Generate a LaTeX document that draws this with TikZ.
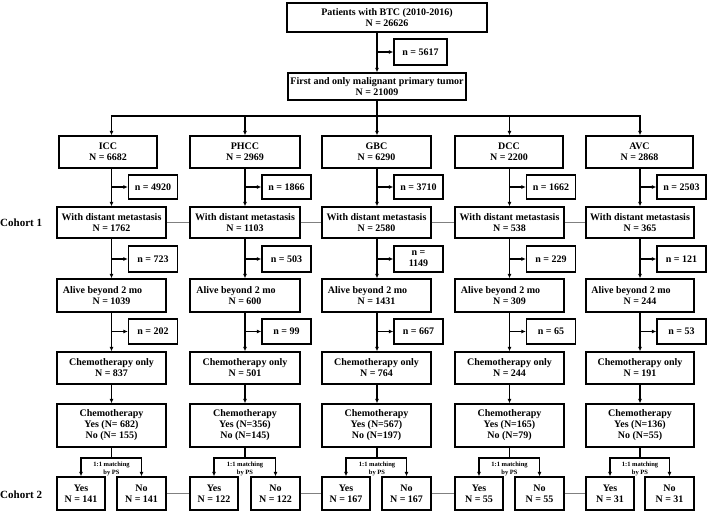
\documentclass[tikz,border=0pt]{standalone}
\usepackage{fontspec}
\setmainfont{Liberation Serif}
\usetikzlibrary{arrows.meta}
\begin{document}
\begin{tikzpicture}[x=1pt,y=-1pt,
 box/.style={draw=black, line width=1.3pt, align=center, inner sep=1pt, font=\fontsize{10}{11}\selectfont\bfseries},
 conn/.style={line width=1.3pt, -{Latex[length=4.5pt,width=4pt]}},
 plain/.style={line width=1.3pt},
 link/.style={line width=0.9pt, gray},
 small/.style={font=\fontsize{6.5}{8}\selectfont\bfseries, align=center, inner sep=0pt},
 cohort/.style={font=\fontsize{11}{13}\selectfont\bfseries, inner sep=0pt, anchor=west}]
\useasboundingbox (0,0) rectangle (709,512);

\node[box, minimum width=200pt, minimum height=29pt] (top) at (387,17.5) {Patients with BTC (2010-2016)\\N = 26626};
\node[box, minimum width=53pt, minimum height=26pt] (ex0) at (420.5,52) {n = 5617};
\node[box, minimum width=178pt, minimum height=27pt] (first) at (377,86.5) {First and only malignant primary tumor\\N = 21009};
\draw[conn] (top.south -| first.north) -- (first.north);
\draw[conn] (ex0.west -| first.north) -- (ex0.west);

\node[cohort] (coh1) at (0,223) {Cohort 1};
\node[cohort] (coh2) at (0,495) {Cohort 2};

\foreach \k/\L/\R/\x/\cL/\cR/\catN/\sa/\dN/\sb/\aN/\sc/\oN/\cy/\cn/\m in {
 ICC/57/166/111.5/59/157/6682/4920/1762/{n = 723}/1039/202/837/{N= 682}/{N= 155}/141,
 PHCC/190/300/245/190/300/2969/1866/1103/{n = 503}/600/99/501/{N=356}/{N=145}/122,
 GBC/322/431/377/322/431/6290/3710/2580/{n =\\1149}/1431/667/764/{N=567}/{N=197}/167,
 DCC/455/564/509.5/455/563/2200/1662/538/{n = 229}/309/65/244/{N=165}/{N=79}/55,
 AVC/586/694/640/586/693/2868/2503/365/{n = 121}/244/53/191/{N=136}/{N=55}/31}{
 \pgfmathsetmacro\cx{(\L+\R)/2}
 \pgfmathsetmacro\ccx{(\cL+\cR)/2}
 \pgfmathsetmacro\sx{\x+41.5}
 \pgfmathsetmacro\yx{\L+24}
 \pgfmathsetmacro\nx{\R-24.5}
 \pgfmathsetlengthmacro\w{\R-\L}
 \pgfmathsetlengthmacro\cw{\cR-\cL}
 \coordinate (c\k) at (\x,116);
 \node[box, minimum width=\cw, minimum height=32pt] (cat\k) at (\ccx,152) {\k\\N = \catN};
 \node[box, minimum width=49pt, minimum height=24pt] (sa\k) at (\sx,187) {n = \sa};
 \node[box, minimum width=\w, minimum height=31pt] (dist\k) at (\cx,222.5) {With distant metastasis\\N = \dN};
 \node[box, minimum width=49pt, minimum height=26pt] (sb\k) at (\sx,259) {\sb};
 \node[box, minimum width=\w, minimum height=33pt] (alive\k) at (\cx,295.5) {Alive beyond 2 mo\hspace*{18pt}\\N = \aN};
 \node[box, minimum width=49pt, minimum height=25pt] (sc\k) at (\sx,331.5) {n = \sc};
 \node[box, minimum width=\w, minimum height=32pt] (only\k) at (\cx,368) {Chemotherapy only\\N = \oN};
 \node[box, minimum width=\w, minimum height=43pt] (chemo\k) at (\cx,425.5) {Chemotherapy\\Yes (\cy)\\No (\cn)};
 \node[box, minimum width=48pt, minimum height=33pt] (yes\k) at (\yx,493.5) {Yes\\N = \m};
 \node[box, minimum width=49pt, minimum height=33pt] (no\k) at (\nx,493.5) {No\\N = \m};
 \node[small] (ps\k) at (\x,469) {1:1 matching\\by PS};
 \coordinate (sp\k) at (\x,458);
 \draw[conn] (c\k) -- (c\k |- cat\k.north);
 \draw[conn] (cat\k.south -| c\k) -- (dist\k.north -| c\k);
 \draw[conn] (sa\k.west -| c\k) -- (sa\k.west);
 \draw[conn] (dist\k.south -| c\k) -- (alive\k.north -| c\k);
 \draw[conn] (sb\k.west -| c\k) -- (sb\k.west);
 \draw[conn] (alive\k.south -| c\k) -- (only\k.north -| c\k);
 \draw[conn] (sc\k.west -| c\k) -- (sc\k.west);
 \draw[conn] (only\k.south -| c\k) -- (chemo\k.north -| c\k);
 \draw[plain] (chemo\k.south -| c\k) -- (sp\k);
 \draw[conn] (sp\k) -| (yes\k.north);
 \draw[conn] (sp\k) -| (no\k.north);
}
\draw[plain] (first.south) -- (first.south |- cICC);
\draw[plain] ([xshift=-0.65pt]cICC) -- ([xshift=0.65pt]cAVC);

\foreach \a/\b in {ICC/PHCC, PHCC/GBC, GBC/DCC, DCC/AVC}{
 \draw[link] (dist\a.east) -- (dist\b.west);
 \draw[link] (no\a.east) -- (yes\b.west);
}
\end{tikzpicture}
\end{document}
